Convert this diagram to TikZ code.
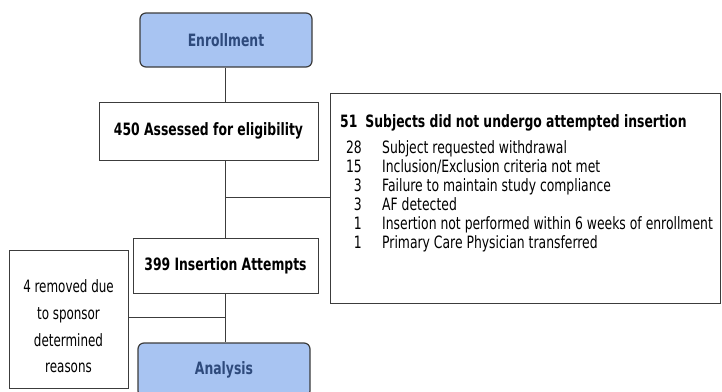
\documentclass[tikz,border=0pt]{standalone}
\usepackage{fontspec}
\setmainfont{DejaVu Sans Condensed}[FakeStretch=0.81]
\newfontfamily\narrowfont{DejaVu Sans Condensed}[FakeStretch=0.78]
\definecolor{boxblue}{HTML}{A8C4F2}
\definecolor{textblue}{HTML}{2E4A7C}
\definecolor{edge}{HTML}{3C3C3C}
\begin{document}
\begin{tikzpicture}[x=1pt,y=-1pt,
  bluebox/.style={draw=edge,line width=1.2pt,fill=boxblue,rounded corners=6pt,
    minimum width=172pt,minimum height=54pt,inner sep=0pt,
    font=\fontsize{17}{20}\selectfont\bfseries,text=textblue},
  whitebox/.style={draw=edge,line width=1pt,fill=white,inner sep=0pt,
    font=\fontsize{17}{20}\selectfont\bfseries},
  link/.style={draw=edge,line width=1pt},
  num/.style={anchor=base east,inner sep=0pt,font=\fontsize{17}{19}\selectfont},
  item/.style={anchor=base west,inner sep=0pt,font=\fontsize{17}{19}\selectfont}]
\useasboundingbox (0,0) rectangle (722,391);
\fill[white] (0,0) rectangle (722,391);
% right list box
\node[draw=edge,line width=1pt,minimum width=390pt,minimum height=210pt,inner sep=0pt,anchor=north west] (list) at (330,93) {};
\coordinate (jA) at (225.5,197);
\coordinate (jB) at (225.5,317);
\draw[link] (jA) -- (jA -| list.west);
% boxes
\node[bluebox] (enr) at (226,40) {Enrollment};
\node[whitebox,minimum width=219pt,minimum height=58pt] (ass) at (208.5,131) {450 Assessed for eligibility};
\node[whitebox,minimum width=185pt,minimum height=55pt] (ins) at (225.5,265.5) {399 Insertion Attempts};
\node[bluebox] (ana) at (224,370) {Analysis};
\node[draw=edge,line width=1pt,minimum width=119pt,minimum height=138pt,inner sep=0pt] (rem) at (68.5,319) {};
\node[align=center,inner sep=0pt,font=\narrowfont\fontsize{17}{26.7}\selectfont] (remtxt) at (68.5,326.5)
  {4 removed due\\to sponsor\\determined\\reasons};
% connectors
\draw[link] (enr.south -| jA) -- (ass.north -| jA);
\draw[link] (ass.south -| jA) -- (ins.north -| jA);
\draw[link] (ins.south -| jA) -- (ana.north -| jA);
\draw[link] (rem.east |- jB) -- (jB);
% list text
\node[item,font=\fontsize{17}{19}\selectfont\bfseries] (t0) at (340,127) {51\hspace{8pt}Subjects did not undergo attempted insertion};
\node[num] (n1) at (362,153) {28};
\node[item] (l1) at (382,153) {Subject requested withdrawal};
\node[num] (n2) at (362,172) {15};
\node[item] (l2) at (382,172) {Inclusion/Exclusion criteria not met};
\node[num] (n3) at (362,191) {3};
\node[item] (l3) at (382,191) {Failure to maintain study compliance};
\node[num] (n4) at (362,210) {3};
\node[item] (l4) at (382,210) {AF detected};
\node[num] (n5) at (362,229) {1};
\node[item] (l5) at (382,229) {Insertion not performed within 6 weeks of enrollment};
\node[num] (n6) at (362,248) {1};
\node[item] (l6) at (382,248) {Primary Care Physician transferred};
\end{tikzpicture}
\end{document}
